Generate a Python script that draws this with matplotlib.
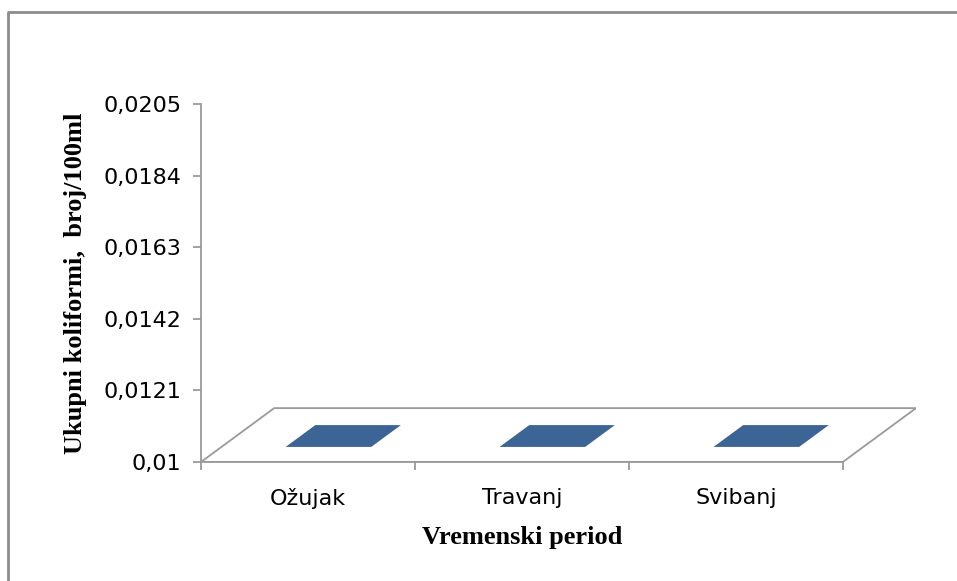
import numpy as np
import matplotlib.pyplot as plt
from matplotlib.patches import Polygon
from matplotlib.lines import Line2D
from matplotlib.transforms import blended_transform_factory

# data
months = ['Ožujak', 'Travanj', 'Svibanj']
values = [0.0, 0.0, 0.0]
y_ticks = [0.01, 0.0121, 0.0142, 0.0163, 0.0184, 0.0205]
y_min, y_max = 0.01, 0.0205

# oblique 3D look (depth offset in data units)
depth_dx = 0.342
depth_dy = 0.00158
bar_w = 0.4
bar_d0, bar_d1 = 0.28, 0.685
bar_color = '#3C6494'
line_gray = '#9A9A9A'

fig = plt.figure(figsize=(9.57, 5.81), dpi=100)
ax = fig.add_axes([201 / 957, 119 / 581, 715 / 957, 358 / 581])
n = len(months)
ax.set_xlim(0, n + depth_dx)
ax.set_ylim(y_min, y_max)

# floor
floor = Polygon([(0, y_min), (n, y_min), (n + depth_dx, y_min + depth_dy),
                 (depth_dx, y_min + depth_dy)], closed=True,
                facecolor='white', edgecolor=line_gray, lw=1.3, zorder=1)
ax.add_patch(floor)

# flat bars (values below the axis minimum sit on the floor)
for i, v in enumerate(values):
    h = max(v, y_min)
    x0 = i + 0.5 - bar_w / 2 + bar_d0 * depth_dx
    xb = i + 0.5 - bar_w / 2 + bar_d1 * depth_dx
    y0 = h + bar_d0 * depth_dy
    y1 = h + bar_d1 * depth_dy
    top = Polygon([(x0, y0), (x0 + bar_w, y0), (xb + bar_w, y1), (xb, y1)],
                  closed=True, facecolor=bar_color, edgecolor='none', zorder=2)
    ax.add_patch(top)

# axes styling
for s in ['top', 'right']:
    ax.spines[s].set_visible(False)
ax.spines['left'].set_bounds(y_min, y_max)
ax.spines['bottom'].set_bounds(0, n)
for s in ['left', 'bottom']:
    ax.spines[s].set_color(line_gray)
    ax.spines[s].set_linewidth(1.3)

ax.set_yticks(y_ticks)
ax.set_yticklabels([('%g' % t).replace('.', ',') for t in y_ticks])
ax.set_xticks(np.arange(n + 1))
ax.set_xticklabels([])
ax.set_xticks(np.arange(n) + 0.5, minor=True)
ax.set_xticklabels(months, minor=True)
ax.tick_params(axis='both', which='major', direction='out', length=6,
               color=line_gray, width=1.3, labelsize=16)
ax.tick_params(axis='x', which='minor', length=0, pad=19, labelsize=16)
ax.tick_params(axis='y', pad=8)
ax.patch.set_alpha(0)

ax.set_xlabel('Vremenski period', fontfamily='Liberation Serif',
              fontweight='bold', fontsize=19)
ax.xaxis.set_label_coords(n / 2, -0.178,
                          transform=blended_transform_factory(ax.transData, ax.transAxes))
ax.set_ylabel('Ukupni koliformi,  broj/100ml', fontfamily='Liberation Serif',
              fontweight='bold', fontsize=19, labelpad=12)

# chart-area border (only top and left visible in the crop)
fig.add_artist(Line2D([8 / 957, 8 / 957, 1.0], [0, 1 - 12 / 581, 1 - 12 / 581],
                      transform=fig.transFigure, color='#8C8C8C', lw=2))

fig.savefig('out.png', dpi=100)
